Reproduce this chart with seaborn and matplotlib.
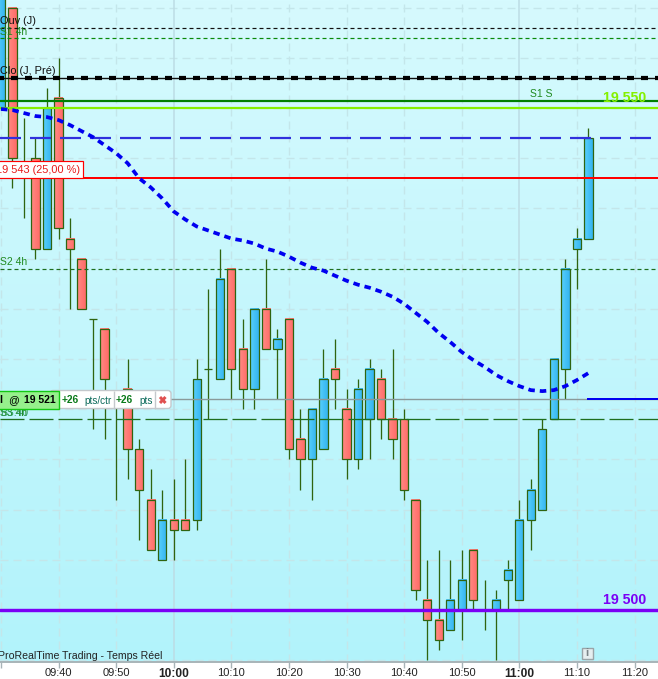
import matplotlib
matplotlib.use('Agg')
import matplotlib.pyplot as plt
from matplotlib.patches import FancyBboxPatch, Rectangle
import numpy as np
import pandas as pd
import seaborn as sns

# prix relatifs a 19 500
opens = [50, 60, 44, 45, 36, 51, 37, 35, 29, 28, 21, 22, 16, 11, 5, 9, 9, 9, 24, 23, 34, 26, 22, 30, 26, 29,
         17, 15, 16, 24, 20, 15, 19, 23, 19, 19, 11, 1, -1, -2, 0, 6, 0, 0, 3, 1, 9, 10, 19, 24, 36, 37]
closes = [64, 45, 44, 36, 50, 38, 36, 30, 29, 23, 21, 16, 12, 6, 9, 8, 8, 23, 24, 33, 24, 22, 30, 26, 27, 16,
          15, 20, 23, 23, 15, 22, 24, 19, 17, 12, 2, -1, -3, 1, 3, 1, 0, 1, 4, 9, 12, 18, 25, 34, 37, 47]
highs = [64, 60, 49, 47, 52, 55, 39, 35, 29, 28, 21, 25, 17, 14, 12, 13, 15, 25, 32, 36, 34, 29, 30, 35, 28, 29,
         20, 20, 26, 27, 22, 23, 25, 24, 26, 20, 11, 5, 6, 5, 6, 6, 3, 2, 5, 11, 13, 19, 25, 35, 38, 48]
lows = [50, 42, 39, 35, 36, 37, 30, 30, 18, 17, 11, 13, 7, 6, 5, 5, 8, 8, 19, 23, 21, 20, 20, 26, 21, 15,
        12, 11, 16, 20, 13, 14, 15, 17, 15, 11, 1, -5, -4, -2, -3, 0, -2, -5, 0, 1, 6, 10, 19, 21, 32, 37]
moyenne = [49.9, 49.8, 49.5, 49.2, 49.1, 48.8, 48.3, 47.7, 47.1, 46.3, 45.5, 44.5, 43.0, 42.1, 41.0, 39.7, 38.9,
           38.2, 37.8, 37.4, 37.0, 36.8, 36.5, 36.0, 35.7, 35.2, 34.6, 34.1, 33.8, 33.3, 32.8, 32.4, 32.1, 31.7,
           31.2, 30.5, 29.6, 28.7, 27.6, 26.7, 25.7, 24.9, 24.2, 23.4, 22.8, 22.3, 21.9, 21.8, 21.9, 22.3, 22.9, 23.6]
tick_minutes = [570, 580, 590, 600, 610, 620, 630, 640, 650, 660, 670, 680]
tick_labels = ['', '09:40', '09:50', '10:00', '10:10', '10:20', '10:30', '10:40', '10:50', '11:00', '11:10', '11:20']

minutes = [570 + 2 * i for i in range(len(opens))]
df = pd.DataFrame({'minute': minutes, 'open': opens, 'close': closes, 'high': highs, 'low': lows, 'ma': moyenne})

sns.set_style('white')
plt.rcParams['font.family'] = ['Liberation Sans', 'DejaVu Sans']
plt.rcParams['lines.scale_dashes'] = False

PX = 0.72
fig = plt.figure(figsize=(6.58, 6.79), dpi=100)
ax = fig.add_axes([0, 17 / 679, 1, 662 / 679])

XMIN, XMAX = 569.84, 684.08
YMIN, YMAX = -5.18, 60.76

# fond en degrade
ax.imshow(np.linspace(0, 1, 256).reshape(-1, 1), extent=(XMIN, XMAX, YMIN, YMAX), origin='upper', aspect='auto',
          cmap=matplotlib.colors.LinearSegmentedColormap.from_list('fond', ['#d6fafe', '#b2f3fb']), zorder=0)

# grille
for n in range(-5, 65, 5):
    ax.axhline(n, color='#c4e6ea', lw=1.4 * PX, ls=(0, (8 * PX, 5 * PX)), zorder=1)
for m in tick_minutes:
    if m in (600, 660):
        ax.axvline(m, color='#bcdce4', lw=1.5 * PX, zorder=1)
    else:
        ax.axvline(m, color='#c4e6ea', lw=1.4 * PX, ls=(0, (8 * PX, 5 * PX)), zorder=1)

# bougies
WICK = '#2f6410'
ax.vlines(df['minute'], df['low'], df['high'], color=WICK, lw=1.3 * PX, zorder=2)
blue = matplotlib.colors.LinearSegmentedColormap.from_list('b', ['#58d0fc', '#34b4f0'])
red = matplotlib.colors.LinearSegmentedColormap.from_list('r', ['#ff8a84', '#ff6c68'])
grad = np.linspace(0, 1, 16).reshape(1, -1)
w = 0.72
for _, c in df.iterrows():
    top, bot = max(c['open'], c['close']), min(c['open'], c['close'])
    if top == bot:
        ax.hlines(top, c['minute'] - w, c['minute'] + w, color=WICK, lw=1.3 * PX, zorder=3)
        continue
    ax.imshow(grad, extent=(c['minute'] - w, c['minute'] + w, bot, top), aspect='auto',
              cmap=blue if c['close'] > c['open'] else red, zorder=3)
    ax.add_patch(Rectangle((c['minute'] - w, bot), 2 * w, top - bot, fill=False, ec=WICK, lw=1.25 * PX, zorder=3.1))


def hline(n, color, lw, ls='-', z=4):
    ax.axhline(n, color=color, lw=lw * PX, ls=ls, zorder=z, dash_capstyle='butt')


hline(58, '#111111', 1.2, (0, (4 * PX, 3 * PX)))
hline(57, '#0a8a0a', 1.2, (0, (4 * PX, 3 * PX)))
hline(53, '#111111', 1.4, (0, (12 * PX, 2 * PX)))
hline(53, '#000000', 4.2, (3 * PX, (7 * PX, 7 * PX)))
hline(50.7, '#008000', 2.2)
hline(50, '#84f000', 2.2)
hline(47, '#3030dd', 2.2, (0, (21 * PX, 9 * PX)))
hline(43, '#ff0000', 2)
hline(34, '#1e6e1e', 1.2, (0, (4 * PX, 3 * PX)))
hline(21, '#8a9a9a', 1.4)
hline(19, '#1e6e1e', 1.3, (0, (24 * PX, 5 * PX)))
hline(0, '#7a00f5', 3.4)
ax.hlines(21, 671.8, XMAX, color='#0000f0', lw=2 * PX, zorder=4.1)

sns.lineplot(data=df, x='minute', y='ma', color='#0000f0', lw=3.7 * PX, linestyle=(0, (6.5 * PX, 5 * PX)),
             errorbar=None, ax=ax, zorder=5)
ax.lines[-1].set_dash_capstyle('butt')

ax.set_xlim(XMIN, XMAX)
ax.set_ylim(YMIN, YMAX)
ax.set_xlabel('')
ax.set_ylabel('')
ax.set_yticks([])
ax.set_xticks(tick_minutes)
ax.set_xticklabels(tick_labels)
ax.tick_params(axis='x', length=4, width=1, color='#a8b4b8', pad=0, labelsize=8, labelcolor='#222222', bottom=True)
for t in ax.get_xticklabels():
    if t.get_text() in ('10:00', '11:00'):
        t.set_fontweight('bold')
        t.set_fontsize(8.6)
for s in ('top', 'left', 'right'):
    ax.spines[s].set_visible(False)
ax.spines['bottom'].set_color('#a8b4b8')
ax.spines['bottom'].set_linewidth(1.4)

# textes et etiquettes, en pixels
ov = fig.add_axes([0, 0, 1, 1])
ov.set_xlim(0, 658)
ov.set_ylim(679, 0)
ov.axis('off')
ov.patch.set_alpha(0)


def label(x, y, s, color='#111111', size=7.9, **kw):
    ov.text(x, y, s, color=color, fontsize=size, va='center', **kw)


label(0, 21, 'Ouv (J)')
label(0, 32, 'S1 4h', '#1f8a1f', 7.5)
label(0, 71, 'Clo (J, Pré)')
label(530, 94, 'S1 S', '#1f8a1f', 7.5)
label(0, 262, 'S2 4h', '#1f8a1f', 7.5)
label(603, 98, '19 550', '#84f000', 10.2, fontweight='bold')
label(603, 600, '19 500', '#7a00f5', 10.2, fontweight='bold')
label(-2, 656, 'ProRealTime Trading - Temps Réel', '#222222', 7.6)
label(0, 413, 'S3 4h', '#1f8a1f', 7.5)
label(0, 413, 'BS:40', '#2a9a5a', 7.5)

ov.add_patch(Rectangle((-5, 160.5), 88, 17, fc='white', ec='#ff0000', lw=1.2 * PX, zorder=6))
ov.text(80, 170, '19 543 (25,00 %)', color='#e81818', fontsize=7.9, va='center', ha='right', zorder=7)

ov.add_patch(FancyBboxPatch((50, 390.5), 121, 18, boxstyle='round,pad=0,rounding_size=3', fc='white', ec='#c4c8cc',
                            lw=1.4 * PX, zorder=6))
ov.add_patch(Rectangle((-5, 390.5), 63.5, 18, fc='#96f08c', ec='#14c814', lw=1.4 * PX, zorder=6.1))
ov.vlines([113.5, 154.5], 390.5, 408.5, color='#c4c8cc', lw=1.4 * PX, zorder=6.2)
label(-1, 400, 'l', '#000000', 7.6, fontweight='bold', zorder=7)
label(8, 400, '@', '#000000', 7.6, zorder=7)
label(24, 400, '19 521', '#000000', 7.5, fontweight='bold', zorder=7)
label(61.5, 400, '+26', '#0a7a1a', 7.4, fontweight='bold', zorder=7)
label(84, 401, 'pts/ctr', '#0a6a5a', 7.2, zorder=7)
label(116, 400, '+26', '#0a7a1a', 7.4, fontweight='bold', zorder=7)
label(139, 401, 'pts', '#0a6a5a', 7.2, zorder=7)
ov.plot([160, 165.5], [397, 403], color='#e05050', lw=3 * PX, zorder=7, solid_capstyle='butt')
ov.plot([160, 165.5], [403, 397], color='#e05050', lw=3 * PX, zorder=7, solid_capstyle='butt')

ov.add_patch(Rectangle((581.5, 647.5), 11, 11, fc='#e6eef0', ec='#9aa4a8', lw=1.4 * PX, zorder=6))
ov.text(587, 653, 'i', color='#7a8488', fontsize=8.2, fontweight='bold', ha='center', va='center', zorder=7)

fig.savefig('out.png', dpi=100)
